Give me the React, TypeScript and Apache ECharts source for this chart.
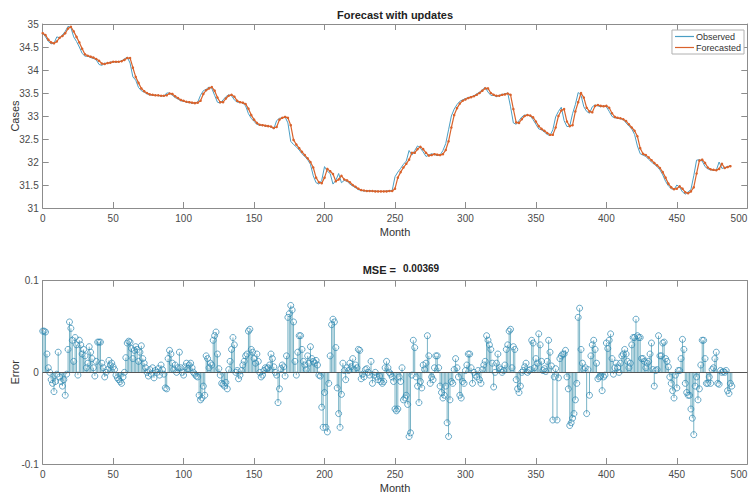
import React, { useEffect, useRef } from "react";
import * as echarts from "echarts";

// Observed and forecasted cases, sampled every 2 months (months 0, 2, ..., 488)
const observed: number[] = [
  34.80, 34.72, 34.62, 34.57, 34.58, 34.72, 34.70, 34.76, 34.84, 34.95,
  34.92, 34.72, 34.62, 34.50, 34.36, 34.30, 34.30, 34.27, 34.25, 34.22,
  34.12, 34.10, 34.15, 34.14, 34.17, 34.18, 34.17, 34.18, 34.20, 34.24,
  34.28, 34.15, 33.85, 33.78, 33.62, 33.55, 33.52, 33.48, 33.46, 33.45,
  33.45, 33.44, 33.44, 33.43, 33.50, 33.50, 33.45, 33.40, 33.37, 33.33,
  33.32, 33.30, 33.29, 33.28, 33.28, 33.30, 33.45, 33.55, 33.58, 33.63,
  33.60, 33.45, 33.30, 33.28, 33.35, 33.42, 33.46, 33.44, 33.35, 33.30,
  33.30, 33.28, 33.22, 33.05, 32.95, 32.88, 32.82, 32.80, 32.80, 32.78,
  32.78, 32.76, 32.72, 32.90, 32.95, 32.96, 32.98, 32.85, 32.45, 32.38,
  32.33, 32.26, 32.18, 32.12, 32.05, 31.95, 31.70, 31.55, 31.52, 31.60,
  31.90, 31.80, 31.75, 31.52, 31.60, 31.75, 31.55, 31.60, 31.58, 31.52,
  31.48, 31.44, 31.40, 31.38, 31.37, 31.37, 31.38, 31.36, 31.37, 31.36,
  31.36, 31.36, 31.37, 31.37, 31.38, 31.68, 31.78, 31.86, 31.95, 32.02,
  32.25, 32.15, 32.25, 32.35, 32.30, 32.22, 32.12, 32.15, 32.18, 32.16,
  32.14, 32.15, 32.25, 32.40, 32.70, 33.00, 33.15, 33.25, 33.32, 33.35,
  33.38, 33.40, 33.42, 33.44, 33.48, 33.52, 33.57, 33.62, 33.52, 33.45,
  33.45, 33.42, 33.45, 33.47, 33.48, 33.50, 33.20, 32.85, 32.82, 32.90,
  32.98, 33.02, 33.02, 33.00, 32.92, 32.82, 32.72, 32.70, 32.65, 32.60,
  32.57, 32.70, 32.98, 33.10, 33.19, 32.90, 32.77, 32.78, 33.05, 33.25,
  33.51, 33.45, 33.20, 33.10, 33.06, 33.20, 33.24, 33.22, 33.20, 33.22,
  33.20, 33.10, 32.99, 32.96, 32.95, 32.94, 32.92, 32.85, 32.78, 32.72,
  32.60, 32.35, 32.18, 32.15, 32.12, 32.06, 32.00, 31.95, 31.90, 31.83,
  31.72, 31.58, 31.48, 31.42, 31.40, 31.50, 31.45, 31.35, 31.30, 31.35,
  31.40, 31.70, 32.04, 32.05, 32.02, 31.90, 31.85, 31.83, 31.82, 31.82,
  32.00, 31.86, 31.88, 31.90, 31.92,
];

const forecasted: number[] = [
  34.80, 34.76, 34.66, 34.60, 34.58, 34.62, 34.70, 34.74, 34.80, 34.90,
  34.94, 34.84, 34.72, 34.60, 34.46, 34.34, 34.31, 34.29, 34.27, 34.24,
  34.20, 34.14, 34.13, 34.15, 34.16, 34.18, 34.18, 34.18, 34.19, 34.22,
  34.26, 34.26, 34.05, 33.85, 33.72, 33.60, 33.54, 33.50, 33.47, 33.46,
  33.45, 33.45, 33.44, 33.44, 33.45, 33.49, 33.48, 33.43, 33.39, 33.35,
  33.33, 33.31, 33.30, 33.29, 33.28, 33.29, 33.33, 33.48, 33.56, 33.60,
  33.63, 33.55, 33.40, 33.30, 33.30, 33.38, 33.44, 33.46, 33.42, 33.33,
  33.30, 33.29, 33.26, 33.16, 33.02, 32.92, 32.85, 32.81, 32.80, 32.79,
  32.78, 32.77, 32.74, 32.76, 32.92, 32.96, 32.98, 32.96, 32.80, 32.48,
  32.38, 32.30, 32.22, 32.15, 32.08, 32.00, 31.88, 31.66, 31.56, 31.54,
  31.66, 31.85, 31.80, 31.74, 31.58, 31.62, 31.70, 31.62, 31.60, 31.56,
  31.50, 31.46, 31.42, 31.39, 31.38, 31.37, 31.37, 31.37, 31.36, 31.36,
  31.36, 31.36, 31.36, 31.37, 31.37, 31.42, 31.66, 31.78, 31.88, 31.96,
  32.05, 32.20, 32.20, 32.28, 32.33, 32.28, 32.20, 32.14, 32.15, 32.17,
  32.16, 32.15, 32.17, 32.26, 32.45, 32.75, 33.02, 33.17, 33.27, 33.33,
  33.36, 33.39, 33.41, 33.43, 33.46, 33.50, 33.55, 33.60, 33.60, 33.50,
  33.46, 33.44, 33.44, 33.46, 33.47, 33.49, 33.46, 33.15, 32.86, 32.85,
  32.93, 33.00, 33.02, 33.01, 32.97, 32.88, 32.78, 32.72, 32.68, 32.63,
  32.59, 32.59, 32.75, 33.00, 33.12, 33.15, 32.88, 32.78, 32.80, 33.10,
  33.30, 33.50, 33.40, 33.18, 33.10, 33.08, 33.22, 33.24, 33.22, 33.21,
  33.22, 33.18, 33.06, 32.98, 32.96, 32.95, 32.93, 32.89, 32.82, 32.75,
  32.68, 32.56, 32.30, 32.18, 32.15, 32.10, 32.04, 31.98, 31.93, 31.87,
  31.78, 31.66, 31.53, 31.45, 31.41, 31.42, 31.47, 31.42, 31.34, 31.32,
  31.36, 31.45, 31.75, 32.03, 32.05, 31.98, 31.88, 31.84, 31.83, 31.82,
  31.85, 31.96, 31.87, 31.89, 31.91,
];

// Forecast error for each month 0..489
const errors: number[] = [
  0.045, 0.045, 0.044, 0.02, 0.005, 0.0, -0.008, -0.012, -0.021, -0.01,
  -0.002, 0.022, -0.005, -0.01, -0.015, -0.008, -0.025, -0.002, 0.025, 0.055,
  0.048, 0.035, 0.012, 0.038, 0.03, -0.003, 0.035, 0.03, 0.02, 0.025,
  0.018, 0.005, 0.01, 0.028, 0.022, 0.015, 0.005, -0.004, 0.012, 0.033,
  0.033, 0.033, 0.01, 0.005, -0.005, 0.0, 0.003, 0.013, 0.008, 0.01,
  0.006, 0.003, -0.003, -0.006, -0.008, -0.01, -0.012, -0.005, 0.0, 0.016,
  0.032, 0.034, 0.033, 0.026, 0.015, 0.024, 0.028, 0.025, 0.012, 0.022,
  0.029, 0.015, 0.01, 0.005, 0.0, -0.004, 0.003, -0.002, 0.005, -0.006,
  0.002, 0.0, 0.004, -0.003, 0.008, 0.003, -0.002, -0.017, -0.018, 0.015,
  0.024, 0.02, 0.01, 0.003, 0.008, 0.0, 0.005, 0.022, 0.005, 0.0,
  -0.003, 0.006, 0.01, 0.004, 0.008, 0.01, 0.005, 0.0, -0.002, -0.004,
  -0.005, -0.025, -0.03, -0.028, -0.015, -0.025, 0.018, 0.015, 0.005, 0.01,
  0.008, 0.035, 0.04, 0.044, 0.02, 0.004, -0.003, -0.012, -0.013, -0.015,
  -0.011, -0.018, 0.003, 0.012, 0.025, 0.038, 0.03, 0.0, 0.002, -0.007,
  -0.003, 0.002, 0.008, 0.012, 0.018, 0.02, 0.045, 0.047, 0.025, 0.022,
  0.015, 0.01, 0.02, 0.012, 0.0, -0.005, -0.003, 0.002, 0.005, 0.004,
  0.005, 0.008, 0.02, 0.015, 0.006, 0.0, -0.003, -0.033, -0.018, 0.004,
  0.008, 0.006, -0.004, 0.018, 0.06, 0.064, 0.073, 0.068, 0.055, 0.012,
  -0.003, 0.022, 0.04, 0.04, 0.025, 0.012, 0.008, 0.003, 0.018, 0.01,
  0.028, 0.015, 0.012, 0.01, 0.013, 0.008, -0.003, -0.004, -0.038, -0.06,
  -0.022, -0.06, -0.065, -0.012, 0.018, 0.052, 0.058, 0.055, 0.027, -0.017,
  -0.045, -0.06, -0.024, 0.01, 0.002, -0.008, 0.005, 0.002, 0.01, 0.006,
  0.015, 0.003, 0.008, 0.005, 0.025, 0.024, -0.007, -0.002, -0.005, 0.003,
  0.004, 0.0, -0.003, 0.012, -0.012, -0.003, 0.0, -0.005, -0.008, -0.004,
  -0.01, -0.012, -0.01, 0.005, 0.012, 0.005, 0.0, -0.002, -0.005, -0.01,
  -0.04, -0.042, -0.04, -0.005, -0.01, 0.005, -0.03, -0.028, -0.025, -0.035,
  -0.07, -0.066, -0.003, 0.035, 0.027, -0.005, -0.015, -0.033, -0.01, -0.017,
  0.008, 0.003, 0.01, 0.04, 0.018, -0.012, -0.005, -0.008, 0.005, 0.018,
  0.018, 0.005, -0.015, -0.022, -0.028, -0.025, -0.015, -0.055, -0.07, -0.03,
  -0.01, -0.012, 0.003, 0.015, 0.005, -0.005, -0.025, -0.028, -0.01, -0.012,
  0.002, 0.008, 0.02, 0.02, 0.005, -0.012, 0.0, -0.003, -0.005, 0.002,
  -0.008, -0.012, 0.003, 0.008, 0.012, 0.04, 0.035, 0.03, 0.025, 0.01,
  -0.016, 0.0, 0.01, 0.02, 0.005, 0.003, 0.0, 0.002, 0.008, 0.025,
  0.03, 0.045, 0.047, 0.005, 0.028, 0.025, -0.008, -0.018, -0.022, -0.015,
  0.0, 0.002, 0.006, 0.01, 0.0, 0.002, 0.003, 0.035, 0.032, 0.005,
  0.015, 0.01, 0.042, 0.03, 0.012, 0.002, 0.004, 0.001, 0.012, 0.035,
  0.022, 0.007, -0.052, -0.005, 0.004, -0.052, -0.006, 0.015, 0.018, 0.02,
  0.02, 0.024, -0.005, -0.018, -0.058, -0.055, -0.05, -0.045, -0.03, -0.012,
  0.06, 0.07, 0.025, 0.01, 0.003, 0.005, -0.045, 0.003, -0.025, 0.018,
  0.03, 0.035, 0.025, 0.01, -0.007, -0.005, -0.004, -0.02, -0.005, -0.003,
  0.032, 0.026, 0.035, 0.042, 0.015, -0.002, 0.005, 0.01, 0.005, 0.0,
  0.01, 0.018, 0.02, 0.025, 0.02, 0.012, 0.005, 0.01, 0.03, 0.038,
  0.038, 0.058, 0.04, 0.038, 0.038, 0.015, 0.015, 0.012, 0.005, 0.01,
  0.012, 0.02, 0.032, 0.003, -0.015, 0.002, 0.003, 0.04, 0.018, 0.018,
  0.032, 0.033, 0.015, 0.012, 0.006, -0.005, -0.012, -0.02, -0.028, -0.003,
  -0.017, 0.002, 0.002, 0.015, 0.036, 0.025, -0.012, -0.022, -0.025, -0.025,
  -0.04, -0.05, -0.068, -0.015, -0.005, -0.03, -0.018, 0.008, 0.035, 0.035,
  0.015, -0.012, -0.012, -0.005, -0.012, 0.003, 0.005, 0.015, 0.022, -0.012,
  -0.013, 0.002, 0.0, 0.001, 0.0, 0.002, -0.02, -0.023, -0.012, -0.015,
];

const monthTicks = [0, 50, 100, 150, 200, 250, 300, 350, 400, 450, 500];
const casesTicks = [31, 31.5, 32, 32.5, 33, 33.5, 34, 34.5, 35];
const errorTicks = [-0.1, 0, 0.1];
const mseValue = "0.00369";

const SAMPLE_STEP = 2;
const FONT = "'Liberation Sans Narrow', 'Liberation Sans', Arial, sans-serif";
const AXIS_COLOR = "#8c8c8c";
const LABEL_COLOR = "#4a4a4a";
const OBS_COLOR = "#4a9ec4";
const FC_COLOR = "#d9622b";
const STEM_COLOR = "#7ab4c6";
const CIRCLE_COLOR = "#2f88b3";

function xAxisBase(gridIndex: number, position: "top" | "bottom", withLabels: boolean, name?: string) {
  return {
    type: "value",
    gridIndex,
    position,
    min: monthTicks[0],
    max: monthTicks[monthTicks.length - 1],
    interval: 50,
    name: name || "",
    nameLocation: "middle",
    nameGap: 18,
    nameMoveOverlap: false,
    nameTextStyle: { fontFamily: FONT, fontSize: 11, color: "#333" },
    axisLine: { show: true, onZero: false, lineStyle: { color: AXIS_COLOR, width: 1 } },
    axisTick: { show: true, inside: true, length: 6, lineStyle: { color: AXIS_COLOR } },
    axisLabel: {
      show: withLabels,
      margin: 5,
      fontFamily: FONT,
      fontSize: 10,
      color: LABEL_COLOR,
      alignMaxLabel: "right",
    },
    splitLine: { show: false },
  };
}

function yAxisBase(
  gridIndex: number,
  position: "left" | "right",
  withLabels: boolean,
  ticks: number[],
  interval: number,
  name?: string
) {
  return {
    type: "value",
    gridIndex,
    position,
    min: ticks[0],
    max: ticks[ticks.length - 1],
    interval,
    name: name || "",
    nameLocation: "middle",
    nameGap: 22,
    nameMoveOverlap: false,
    nameTextStyle: { fontFamily: FONT, fontSize: 11, color: "#333" },
    axisLine: { show: true, onZero: false, lineStyle: { color: AXIS_COLOR, width: 1 } },
    axisTick: { show: true, inside: true, length: 6, lineStyle: { color: AXIS_COLOR } },
    axisLabel: {
      show: withLabels,
      margin: 4,
      fontFamily: FONT,
      fontSize: 10,
      color: LABEL_COLOR,
    },
    splitLine: { show: false },
  };
}

export default function App() {
  const ref = useRef<HTMLDivElement>(null);

  useEffect(() => {
    document.body.style.margin = "0";
    if (!ref.current) return;
    const chart = echarts.init(ref.current, undefined, { renderer: "svg" });

    const obsData = observed.map((v, i) => [i * SAMPLE_STEP, v]);
    const fcData = forecasted.map((v, i) => [i * SAMPLE_STEP, v]);
    const errData = errors.map((v, i) => [i, v]);

    const option: any = {
      animation: false,
      backgroundColor: "#ffffff",
      grid: [
        { left: 42.7, top: 24, width: 704.6, height: 184, containLabel: false, outerBoundsMode: "none" },
        { left: 42.7, top: 280.7, width: 704.6, height: 183.3, containLabel: false, outerBoundsMode: "none" },
      ],
      xAxis: [
        xAxisBase(0, "bottom", true, "Month"),
        xAxisBase(0, "top", false),
        xAxisBase(1, "bottom", true, "Month"),
        xAxisBase(1, "top", false),
      ],
      yAxis: [
        yAxisBase(0, "left", true, casesTicks, 0.5, "Cases"),
        yAxisBase(0, "right", false, casesTicks, 0.5),
        yAxisBase(1, "left", true, errorTicks, 0.1, "Error"),
        yAxisBase(1, "right", false, errorTicks, 0.1),
      ],
      legend: {
        data: [
          { name: "Observed", icon: "rect" },
          { name: "Forecasted", icon: "rect" },
        ],
        orient: "vertical",
        right: 7,
        top: 30,
        itemWidth: 19,
        itemHeight: 1.2,
        itemGap: 2,
        padding: [2, 3, 2, 3],
        borderColor: "#b0b0b0",
        borderWidth: 1,
        backgroundColor: "#ffffff",
        textStyle: { fontFamily: FONT, fontSize: 9, color: "#333", padding: [0, 0, 0, -3] },
      },
      graphic: [
        {
          type: "text",
          x: 395,
          y: 15,
          style: {
            text: "Forecast with updates",
            textAlign: "center",
            textVerticalAlign: "middle",
            fontFamily: FONT,
            fontWeight: "bold",
            fontSize: 11,
            fill: "#222",
          },
        },
        {
          type: "text",
          x: 399,
          y: 270,
          style: {
            text: "MSE = ",
            textAlign: "right",
            textVerticalAlign: "middle",
            fontFamily: FONT,
            fontWeight: "bold",
            fontSize: 11,
            fill: "#222",
          },
        },
        {
          type: "text",
          x: 403,
          y: 268,
          style: {
            text: mseValue,
            textAlign: "left",
            textVerticalAlign: "middle",
            fontFamily: FONT,
            fontWeight: "bold",
            fontSize: 10,
            fill: "#222",
          },
        },
      ],
      series: [
        {
          name: "Observed",
          type: "line",
          xAxisIndex: 0,
          yAxisIndex: 0,
          data: obsData,
          showSymbol: false,
          symbol: "none",
          lineStyle: { color: OBS_COLOR, width: 1 },
          itemStyle: { color: OBS_COLOR },
          z: 2,
        },
        {
          name: "Forecasted",
          type: "line",
          xAxisIndex: 0,
          yAxisIndex: 0,
          data: fcData,
          showSymbol: true,
          symbol: "circle",
          symbolSize: 2.5,
          lineStyle: { color: FC_COLOR, width: 1.2 },
          itemStyle: { color: FC_COLOR },
          z: 3,
        },
        {
          name: "stems",
          type: "custom",
          xAxisIndex: 2,
          yAxisIndex: 2,
          data: errData,
          encode: { x: 0, y: 1 },
          renderItem: (params: any, api: any) => {
            const x = api.value(0);
            const y = api.value(1);
            const p0 = api.coord([x, 0]);
            const p1 = api.coord([x, y]);
            return {
              type: "line",
              shape: { x1: p0[0], y1: p0[1], x2: p1[0], y2: p1[1] },
              style: { stroke: STEM_COLOR, lineWidth: 1 },
            };
          },
          markLine: {
            silent: true,
            symbol: "none",
            label: { show: false },
            lineStyle: { color: "#555", width: 1, type: "solid" },
            data: [{ yAxis: 0 }],
          },
          z: 2,
        },
        {
          name: "errCircles",
          type: "scatter",
          xAxisIndex: 2,
          yAxisIndex: 2,
          data: errData,
          symbol: "circle",
          symbolSize: 6,
          itemStyle: { color: "rgba(255,255,255,0)", borderColor: CIRCLE_COLOR, borderWidth: 0.9 },
          z: 3,
        },
      ],
    };

    chart.setOption(option);
    return () => chart.dispose();
  }, []);

  return <div ref={ref} style={{ width: 751, height: 493 }} />;
}
